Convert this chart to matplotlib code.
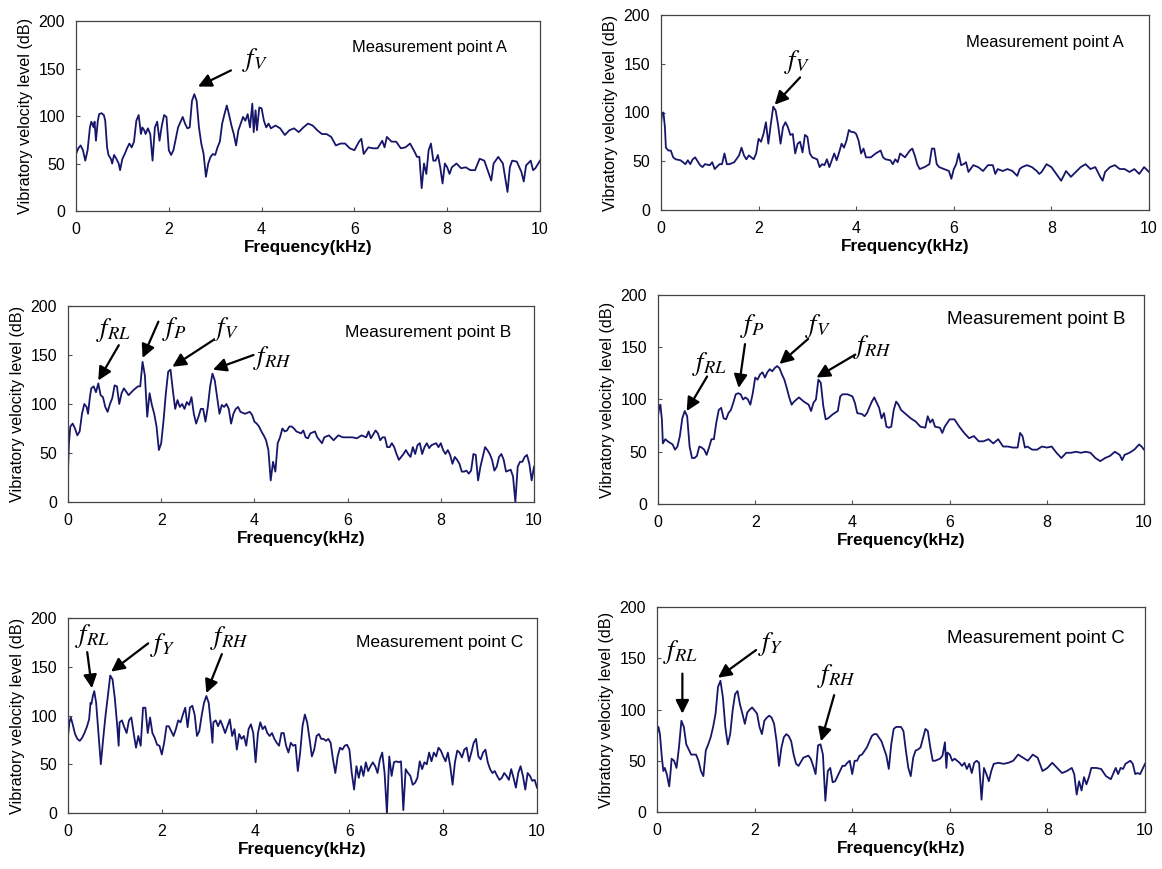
import matplotlib
matplotlib.use("Agg")
import matplotlib.pyplot as plt
import matplotlib.ticker as ticker

plt.rcParams['font.family'] = ['Liberation Sans', 'DejaVu Sans']
plt.rcParams['mathtext.fontset'] = 'stix'

# ---- data (kHz, dB) ----
freq_a1 = [0.0, 0.05, 0.1, 0.15, 0.2, 0.25, 0.3, 0.33, 0.38, 0.4, 0.43, 0.47, 0.5, 0.55, 0.6, 0.63, 0.67, 0.7, 0.75, 0.78,
           0.82, 0.87, 0.92, 0.95, 1.0, 1.05, 1.1, 1.15, 1.2, 1.25, 1.3, 1.35, 1.4, 1.43, 1.47, 1.5, 1.55, 1.6, 1.65, 1.7,
           1.75, 1.8, 1.85, 1.9, 1.95, 2.0, 2.05, 2.1, 2.2, 2.3, 2.35, 2.4, 2.45, 2.5, 2.55, 2.6, 2.65, 2.7, 2.75, 2.8,
           2.85, 2.9, 2.95, 3.0, 3.05, 3.1, 3.15, 3.2, 3.25, 3.3, 3.35, 3.4, 3.45, 3.5, 3.55, 3.6, 3.65, 3.7, 3.75, 3.8,
           3.83, 3.87, 3.9, 3.95, 4.0, 4.05, 4.1, 4.15, 4.2, 4.3, 4.4, 4.5, 4.6, 4.7, 4.8, 4.9, 5.0, 5.1, 5.2, 5.3,
           5.4, 5.5, 5.6, 5.7, 5.8, 5.9, 6.0, 6.1, 6.15, 6.2, 6.3, 6.4, 6.5, 6.6, 6.65, 6.7, 6.8, 6.9, 7.0, 7.1,
           7.2, 7.3, 7.35, 7.4, 7.45, 7.5, 7.55, 7.6, 7.65, 7.7, 7.75, 7.8, 7.85, 7.9, 7.95, 8.0, 8.05, 8.1, 8.2, 8.3,
           8.4, 8.5, 8.6, 8.7, 8.8, 8.9, 8.95, 9.0, 9.1, 9.2, 9.3, 9.35, 9.4, 9.5, 9.6, 9.65, 9.7, 9.8, 9.85, 9.9, 10.0]
level_a1 = [60, 66, 69, 64, 53, 64, 88, 94, 88, 94, 74, 95, 102, 103, 101, 95, 67, 59, 55, 50,
            59, 55, 50, 43, 55, 60, 66, 71, 67, 73, 95, 101, 81, 88, 85, 81, 87, 81, 53, 88,
            94, 74, 90, 101, 99, 64, 59, 64, 88, 99, 92, 87, 88, 116, 123, 116, 88, 71, 60, 36,
            50, 57, 60, 59, 67, 73, 92, 102, 111, 101, 90, 81, 69, 85, 92, 99, 95, 102, 88, 113,
            83, 106, 85, 109, 108, 95, 88, 92, 87, 90, 87, 80, 85, 87, 83, 88, 92, 90, 85, 81,
            81, 78, 69, 71, 71, 66, 64, 73, 76, 60, 67, 66, 66, 74, 67, 78, 73, 73, 66, 67,
            71, 62, 57, 57, 24, 50, 39, 64, 71, 53, 53, 59, 46, 29, 50, 46, 39, 46, 50, 45,
            46, 43, 43, 55, 53, 39, 32, 50, 57, 50, 20, 46, 53, 52, 41, 31, 48, 53, 43, 45, 53]

freq_a2 = [0.0, 0.02, 0.05, 0.08, 0.1, 0.15, 0.2, 0.25, 0.3, 0.4, 0.5, 0.55, 0.6, 0.65, 0.7, 0.8, 0.85, 0.9, 1.0, 1.05,
           1.1, 1.2, 1.25, 1.3, 1.35, 1.4, 1.5, 1.6, 1.65, 1.7, 1.75, 1.8, 1.9, 1.95, 2.0, 2.05, 2.1, 2.15, 2.2, 2.25,
           2.3, 2.35, 2.4, 2.45, 2.5, 2.55, 2.6, 2.65, 2.7, 2.75, 2.8, 2.85, 2.9, 2.95, 3.0, 3.05, 3.1, 3.2, 3.25, 3.3,
           3.35, 3.4, 3.45, 3.5, 3.55, 3.6, 3.65, 3.7, 3.75, 3.8, 3.85, 3.9, 3.95, 4.0, 4.05, 4.1, 4.15, 4.2, 4.3, 4.4,
           4.5, 4.55, 4.6, 4.7, 4.75, 4.8, 4.85, 4.9, 5.0, 5.1, 5.15, 5.2, 5.25, 5.3, 5.4, 5.5, 5.55, 5.6, 5.65, 5.7,
           5.8, 5.9, 5.95, 6.0, 6.05, 6.1, 6.15, 6.2, 6.25, 6.3, 6.4, 6.5, 6.6, 6.7, 6.8, 6.85, 6.9, 7.0, 7.1, 7.2,
           7.3, 7.35, 7.4, 7.5, 7.6, 7.7, 7.75, 7.8, 7.9, 8.0, 8.1, 8.2, 8.3, 8.4, 8.5, 8.6, 8.7, 8.8, 8.9, 9.0,
           9.05, 9.1, 9.2, 9.3, 9.4, 9.5, 9.6, 9.7, 9.8, 9.9, 10.0]
level_a2 = [88, 99, 100, 85, 64, 61, 61, 54, 52, 51, 47, 51, 47, 52, 54, 46, 44, 47, 46, 49,
            42, 47, 47, 58, 47, 47, 49, 56, 64, 56, 52, 56, 52, 58, 73, 70, 78, 90, 68, 88,
            106, 102, 87, 68, 85, 90, 85, 77, 78, 58, 68, 70, 59, 77, 75, 58, 54, 52, 44, 47,
            46, 52, 44, 51, 58, 51, 59, 68, 64, 71, 82, 80, 80, 78, 71, 58, 63, 54, 54, 58,
            61, 54, 52, 51, 47, 52, 49, 58, 54, 61, 63, 56, 47, 42, 44, 47, 63, 63, 47, 44,
            42, 40, 32, 42, 47, 58, 46, 47, 49, 39, 46, 44, 40, 46, 46, 37, 42, 40, 42, 40,
            35, 42, 44, 46, 44, 40, 37, 39, 47, 44, 37, 30, 40, 34, 39, 44, 47, 42, 44, 34,
            30, 39, 44, 46, 42, 42, 39, 42, 37, 44, 39]

freq_b1 = [0.0, 0.02, 0.05, 0.1, 0.15, 0.2, 0.25, 0.3, 0.35, 0.4, 0.43, 0.47, 0.5, 0.55, 0.6, 0.65, 0.7, 0.75, 0.8, 0.85,
           0.9, 0.95, 1.0, 1.05, 1.1, 1.15, 1.2, 1.3, 1.4, 1.5, 1.55, 1.6, 1.65, 1.7, 1.75, 1.8, 1.85, 1.9, 1.95, 2.0,
           2.05, 2.1, 2.15, 2.2, 2.25, 2.3, 2.35, 2.4, 2.45, 2.5, 2.55, 2.6, 2.65, 2.7, 2.75, 2.8, 2.85, 2.9, 2.95, 3.0,
           3.05, 3.1, 3.15, 3.2, 3.25, 3.3, 3.35, 3.4, 3.45, 3.5, 3.55, 3.6, 3.65, 3.7, 3.8, 3.9, 3.95, 4.0, 4.05, 4.1,
           4.15, 4.2, 4.25, 4.3, 4.35, 4.4, 4.45, 4.5, 4.55, 4.6, 4.65, 4.7, 4.75, 4.8, 4.85, 4.9, 5.0, 5.05, 5.1, 5.15,
           5.2, 5.3, 5.35, 5.4, 5.45, 5.5, 5.6, 5.7, 5.8, 5.9, 6.0, 6.1, 6.2, 6.3, 6.4, 6.45, 6.5, 6.6, 6.65, 6.7,
           6.75, 6.8, 6.85, 6.9, 6.95, 7.0, 7.05, 7.1, 7.15, 7.2, 7.25, 7.3, 7.35, 7.4, 7.45, 7.5, 7.55, 7.6, 7.65, 7.7,
           7.75, 7.8, 7.9, 7.95, 8.0, 8.05, 8.1, 8.15, 8.2, 8.25, 8.3, 8.35, 8.4, 8.45, 8.5, 8.55, 8.6, 8.65, 8.7, 8.75,
           8.8, 8.85, 8.9, 8.95, 9.0, 9.05, 9.1, 9.15, 9.2, 9.25, 9.3, 9.35, 9.4, 9.45, 9.5, 9.55, 9.6, 9.65, 9.7, 9.75,
           9.8, 9.85, 9.9, 9.95, 10.0]
level_b1 = [32, 60, 77, 80, 75, 68, 72, 90, 100, 97, 90, 107, 116, 118, 112, 121, 109, 107, 97, 92,
            100, 106, 119, 118, 100, 111, 116, 109, 114, 118, 118, 143, 129, 87, 111, 99, 90, 77, 53, 60,
            83, 111, 133, 135, 114, 95, 104, 97, 100, 95, 102, 99, 107, 90, 80, 87, 95, 95, 82, 97,
            118, 131, 124, 107, 90, 99, 97, 100, 95, 80, 90, 95, 97, 92, 90, 92, 89, 82, 80, 77,
            72, 68, 63, 53, 22, 41, 31, 60, 66, 75, 72, 73, 77, 77, 75, 72, 70, 73, 66, 65,
            70, 72, 66, 63, 60, 66, 68, 63, 68, 66, 66, 66, 65, 68, 66, 72, 65, 73, 70, 63,
            66, 66, 56, 56, 60, 56, 49, 43, 46, 49, 53, 49, 46, 56, 49, 58, 60, 49, 56, 60,
            55, 58, 60, 56, 60, 53, 49, 53, 48, 39, 46, 43, 39, 31, 31, 32, 29, 32, 49, 48,
            22, 36, 46, 56, 53, 49, 43, 32, 36, 46, 49, 43, 31, 32, 33, 26, 0, 36, 41, 41,
            46, 48, 39, 22, 36]

freq_b2 = [0.0, 0.03, 0.05, 0.08, 0.1, 0.15, 0.2, 0.3, 0.35, 0.4, 0.45, 0.5, 0.55, 0.6, 0.65, 0.7, 0.75, 0.8, 0.85, 0.9,
           0.95, 1.0, 1.05, 1.1, 1.15, 1.2, 1.25, 1.3, 1.35, 1.4, 1.45, 1.5, 1.55, 1.6, 1.65, 1.7, 1.75, 1.8, 1.85, 1.9,
           1.95, 2.0, 2.05, 2.1, 2.15, 2.2, 2.25, 2.3, 2.35, 2.4, 2.45, 2.5, 2.55, 2.6, 2.65, 2.7, 2.75, 2.8, 2.9, 3.0,
           3.1, 3.15, 3.2, 3.25, 3.3, 3.35, 3.4, 3.45, 3.5, 3.6, 3.7, 3.75, 3.8, 3.9, 4.0, 4.05, 4.1, 4.2, 4.25, 4.3,
           4.4, 4.45, 4.5, 4.55, 4.6, 4.65, 4.7, 4.75, 4.8, 4.85, 4.9, 4.95, 5.0, 5.1, 5.2, 5.3, 5.4, 5.5, 5.55, 5.6,
           5.65, 5.7, 5.8, 5.85, 5.9, 6.0, 6.1, 6.2, 6.3, 6.4, 6.5, 6.6, 6.7, 6.8, 6.9, 7.0, 7.1, 7.2, 7.3, 7.4,
           7.45, 7.5, 7.55, 7.6, 7.7, 7.8, 7.9, 8.0, 8.1, 8.2, 8.3, 8.4, 8.5, 8.6, 8.7, 8.8, 8.9, 9.0, 9.1, 9.2,
           9.3, 9.4, 9.5, 9.55, 9.6, 9.7, 9.8, 9.9, 9.95, 10.0]
level_b2 = [84, 94, 95, 81, 58, 62, 60, 57, 52, 55, 65, 82, 89, 84, 55, 44, 44, 46, 55, 54,
            52, 47, 54, 62, 62, 78, 90, 92, 82, 81, 87, 90, 97, 105, 106, 105, 100, 102, 100, 95,
            106, 121, 119, 124, 126, 121, 126, 129, 127, 130, 132, 130, 124, 119, 111, 102, 95, 98, 102, 98,
            95, 89, 97, 100, 119, 116, 94, 81, 82, 86, 89, 103, 105, 105, 103, 97, 87, 86, 84, 87,
            98, 102, 97, 92, 82, 87, 74, 73, 74, 90, 98, 95, 90, 86, 82, 79, 74, 73, 84, 78,
            81, 74, 73, 68, 74, 81, 81, 74, 68, 63, 65, 60, 60, 62, 58, 62, 55, 55, 54, 54,
            68, 65, 54, 55, 52, 52, 55, 54, 55, 49, 44, 49, 49, 50, 49, 50, 49, 44, 41, 44,
            46, 50, 47, 42, 47, 49, 52, 57, 55, 52]

freq_c1 = [0.0, 0.03, 0.06, 0.1, 0.15, 0.2, 0.25, 0.3, 0.35, 0.4, 0.45, 0.48, 0.5, 0.53, 0.56, 0.6, 0.65, 0.7, 0.75, 0.8,
           0.85, 0.9, 0.95, 1.0, 1.05, 1.08, 1.1, 1.15, 1.2, 1.25, 1.3, 1.35, 1.4, 1.45, 1.5, 1.55, 1.6, 1.65, 1.7, 1.75,
           1.8, 1.85, 1.9, 1.95, 2.0, 2.05, 2.1, 2.15, 2.2, 2.25, 2.3, 2.35, 2.4, 2.45, 2.5, 2.55, 2.6, 2.65, 2.7, 2.75,
           2.8, 2.85, 2.9, 2.95, 3.0, 3.05, 3.08, 3.1, 3.15, 3.2, 3.25, 3.3, 3.35, 3.4, 3.45, 3.5, 3.55, 3.6, 3.65, 3.7,
           3.75, 3.8, 3.85, 3.9, 3.95, 4.0, 4.05, 4.1, 4.15, 4.2, 4.25, 4.3, 4.35, 4.4, 4.45, 4.5, 4.55, 4.6, 4.65, 4.7,
           4.75, 4.8, 4.85, 4.9, 4.95, 5.0, 5.05, 5.1, 5.15, 5.2, 5.25, 5.3, 5.35, 5.4, 5.45, 5.5, 5.55, 5.6, 5.65, 5.7,
           5.75, 5.8, 5.85, 5.9, 5.95, 6.0, 6.05, 6.1, 6.15, 6.2, 6.25, 6.3, 6.35, 6.4, 6.45, 6.5, 6.55, 6.6, 6.65, 6.7,
           6.75, 6.8, 6.85, 6.9, 6.95, 7.0, 7.05, 7.1, 7.15, 7.2, 7.25, 7.3, 7.35, 7.4, 7.45, 7.5, 7.55, 7.6, 7.65, 7.7,
           7.75, 7.8, 7.85, 7.9, 7.95, 8.0, 8.05, 8.1, 8.15, 8.2, 8.25, 8.3, 8.35, 8.4, 8.45, 8.5, 8.55, 8.6, 8.65, 8.7,
           8.75, 8.8, 8.85, 8.9, 8.95, 9.0, 9.05, 9.1, 9.15, 9.2, 9.25, 9.3, 9.35, 9.4, 9.45, 9.5, 9.55, 9.6, 9.65, 9.7,
           9.75, 9.8, 9.85, 9.9, 9.95, 10.0]
level_c1 = [79, 93, 98, 91, 81, 76, 74, 77, 82, 88, 96, 113, 112, 120, 125, 113, 82, 50, 76, 100,
            120, 141, 137, 117, 89, 69, 93, 95, 88, 82, 95, 98, 82, 67, 79, 69, 108, 108, 82, 98,
            82, 77, 70, 69, 60, 72, 89, 89, 84, 79, 86, 95, 93, 101, 108, 88, 108, 110, 101, 79,
            84, 100, 113, 120, 113, 89, 72, 93, 95, 89, 95, 89, 82, 89, 96, 79, 86, 65, 81, 76,
            79, 69, 86, 91, 82, 52, 82, 93, 86, 89, 82, 79, 82, 76, 72, 69, 82, 82, 69, 62,
            72, 69, 70, 43, 62, 89, 101, 93, 76, 58, 65, 79, 81, 76, 76, 74, 76, 72, 55, 41,
            58, 67, 65, 69, 70, 65, 41, 24, 48, 36, 48, 38, 52, 43, 48, 52, 48, 41, 55, 62,
            41, 0, 58, 38, 52, 53, 52, 53, 3, 45, 41, 38, 29, 31, 36, 53, 45, 52, 50, 62,
            53, 62, 58, 67, 64, 58, 53, 62, 48, 29, 52, 64, 62, 57, 65, 67, 53, 62, 72, 76,
            58, 55, 62, 65, 52, 45, 41, 43, 38, 34, 36, 41, 38, 34, 45, 36, 26, 41, 48, 38,
            24, 41, 38, 33, 34, 26]

freq_c2 = [0.0, 0.03, 0.06, 0.1, 0.13, 0.16, 0.2, 0.25, 0.28, 0.3, 0.35, 0.4, 0.45, 0.5, 0.55, 0.6, 0.65, 0.7, 0.75, 0.8,
           0.85, 0.9, 0.95, 1.0, 1.05, 1.1, 1.15, 1.2, 1.25, 1.3, 1.35, 1.4, 1.45, 1.5, 1.55, 1.6, 1.65, 1.7, 1.75, 1.8,
           1.85, 1.9, 1.95, 2.0, 2.05, 2.1, 2.15, 2.2, 2.25, 2.3, 2.35, 2.4, 2.45, 2.5, 2.55, 2.6, 2.65, 2.7, 2.75, 2.8,
           2.85, 2.9, 3.0, 3.1, 3.15, 3.2, 3.25, 3.3, 3.35, 3.4, 3.45, 3.5, 3.55, 3.6, 3.65, 3.7, 3.8, 3.85, 3.9, 3.95,
           4.0, 4.05, 4.1, 4.15, 4.2, 4.3, 4.4, 4.45, 4.5, 4.6, 4.7, 4.75, 4.8, 4.85, 4.9, 5.0, 5.05, 5.1, 5.15, 5.2,
           5.25, 5.3, 5.35, 5.4, 5.5, 5.55, 5.6, 5.65, 5.7, 5.8, 5.85, 5.9, 5.93, 5.95, 6.0, 6.05, 6.1, 6.2, 6.25, 6.3,
           6.35, 6.4, 6.45, 6.5, 6.55, 6.6, 6.65, 6.7, 6.75, 6.8, 6.85, 6.9, 7.0, 7.1, 7.2, 7.3, 7.4, 7.5, 7.6, 7.7,
           7.8, 7.9, 8.0, 8.1, 8.2, 8.3, 8.4, 8.5, 8.55, 8.6, 8.65, 8.7, 8.75, 8.8, 8.85, 8.9, 9.0, 9.1, 9.2, 9.3,
           9.4, 9.45, 9.5, 9.55, 9.6, 9.7, 9.75, 9.8, 9.85, 9.9, 10.0]
level_c2 = [76, 83, 76, 53, 40, 43, 37, 25, 40, 52, 50, 43, 63, 89, 83, 66, 61, 56, 56, 56,
            50, 40, 35, 60, 66, 73, 83, 96, 122, 128, 112, 83, 66, 76, 99, 115, 118, 105, 96, 86,
            97, 100, 102, 99, 96, 83, 76, 89, 92, 94, 92, 86, 69, 45, 63, 73, 76, 74, 69, 56,
            47, 45, 53, 55, 52, 45, 37, 65, 66, 56, 11, 40, 43, 29, 30, 35, 45, 45, 48, 50,
            37, 50, 50, 55, 56, 63, 74, 76, 76, 69, 55, 42, 66, 81, 83, 83, 79, 60, 43, 35,
            53, 60, 61, 63, 81, 79, 63, 50, 50, 52, 55, 68, 43, 58, 56, 50, 52, 48, 45, 48,
            42, 47, 38, 48, 50, 48, 12, 43, 37, 30, 40, 47, 48, 47, 48, 50, 56, 53, 50, 56,
            53, 40, 43, 48, 43, 38, 40, 43, 37, 17, 30, 21, 34, 27, 34, 43, 43, 42, 35, 32,
            43, 37, 43, 42, 47, 50, 47, 37, 38, 37, 47]

# ---- layout, pixel boxes (left, top, right, bottom) measured on the reference ----
W, H = 1162.0, 869.0
boxes = [(76, 21, 540, 211), (661, 15, 1149, 210),
         (68, 306, 534, 502), (658, 295, 1144, 504),
         (68, 618, 537, 813), (657, 607, 1145, 812)]

panels = [
    (freq_a1, level_a1, "Measurement point A", (0.595, 0.863), 11.8,
     [(r"$f_V$", (3.86, 159), (3.34, 148), (2.63, 131))]),
    (freq_a2, level_a2, "Measurement point A", (0.624, 0.858), 12.0,
     [(r"$f_V$", (2.78, 152), (2.85, 136), (2.33, 108))]),
    (freq_b1, level_b1, "Measurement point B", (0.595, 0.864), 12.6,
     [(r"$f_{RL}$", (0.97, 175), (1.09, 160), (0.65, 124)),
      (r"$f_P$", (2.28, 177), (1.94, 184), (1.60, 147)),
      (r"$f_V$", (3.39, 177), (3.11, 165), (2.24, 138)),
      (r"$f_{RH}$", (4.38, 147), (3.98, 150), (3.11, 135))]),
    (freq_b2, level_b2, "Measurement point B", (0.594, 0.885), 13.6,
     [(r"$f_{RL}$", (1.05, 134), (1.01, 122), (0.59, 89)),
      (r"$f_P$", (1.93, 170), (1.79, 153), (1.66, 111)),
      (r"$f_V$", (3.30, 170), (3.09, 158), (2.50, 134)),
      (r"$f_{RH}$", (4.41, 150), (4.06, 143), (3.26, 121))]),
    (freq_c1, level_c1, "Measurement point C", (0.614, 0.876), 12.6,
     [(r"$f_{RL}$", (0.53, 182), (0.41, 165), (0.51, 128)),
      (r"$f_Y$", (2.02, 172), (1.71, 174), (0.92, 145)),
      (r"$f_{RH}$", (3.44, 179), (3.28, 163), (2.95, 123))]),
    (freq_c2, level_c2, "Measurement point C", (0.595, 0.845), 13.4,
     [(r"$f_{RL}$", (0.47, 156), (0.52, 135), (0.52, 96)),
      (r"$f_Y$", (2.33, 164), (2.03, 158), (1.25, 131)),
      (r"$f_{RH}$", (3.67, 133), (3.63, 114), (3.36, 69))]),
]

fig = plt.figure(figsize=(W / 100, H / 100), dpi=100)

for (x0, y0, x1, y1), (fx, lv, title, tpos, tsize, notes) in zip(boxes, panels):
    ax = fig.add_axes([x0 / W, 1 - y1 / H, (x1 - x0) / W, (y1 - y0) / H])
    ax.plot(fx, lv, color='#16166a', lw=1.3)
    ax.set_xlim(0, 10)
    ax.set_ylim(0, 200)
    ax.xaxis.set_major_locator(ticker.MultipleLocator(2))
    ax.yaxis.set_major_locator(ticker.MultipleLocator(50))
    ax.tick_params(labelsize=11.5, length=3, width=0.8, direction='in', pad=8, color='#555555')
    for sp in ax.spines.values():
        sp.set_linewidth(0.9)
        sp.set_color('#444444')
    ax.set_xlabel("Frequency(kHz)", fontsize=12.3, fontweight='bold', labelpad=2)
    ax.set_ylabel("Vibratory velocity level (dB)", fontsize=11.6, labelpad=4)
    ax.text(tpos[0], tpos[1], title, transform=ax.transAxes, fontsize=tsize,
            ha='left', va='center')
    for lab, tp, tail, head in notes:
        ax.text(tp[0], tp[1], lab, fontsize=19, ha='center', va='center')
        ax.annotate("", xy=head, xytext=tail,
                    arrowprops=dict(arrowstyle='-|>', color='black', lw=1.6,
                                    mutation_scale=20, shrinkA=0, shrinkB=0))

fig.savefig("out.png", dpi=100)
